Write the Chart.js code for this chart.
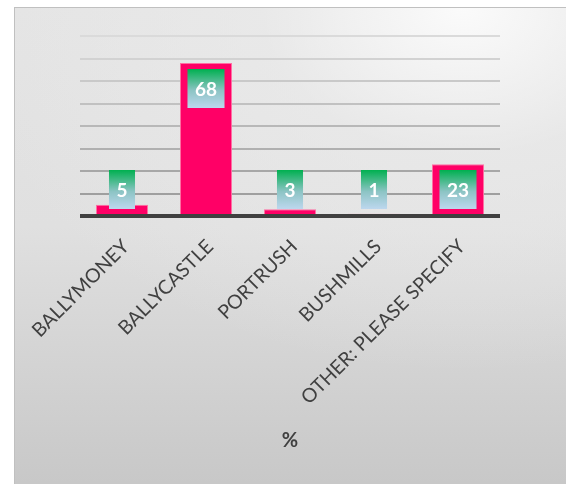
<!DOCTYPE html>
<html lang="en">
<head>
<meta charset="UTF-8">
<title>%</title>
<script src="https://cdn.jsdelivr.net/npm/chart.js"></script>
<style>
  html, body { margin: 0; padding: 0; background: #fff; }
  body { width: 566px; height: 484px; overflow: hidden; position: relative; }
  #frame {
    position: absolute; left: 14px; top: 7px; width: 560px; height: 485px;
    border: 1px solid #c0c0c0;
    background:
      radial-gradient(ellipse 90% 75% at 80% 0%, rgba(252,252,252,0.95) 0%, rgba(236,236,236,0.6) 40%, rgba(220,220,220,0) 100%),
      linear-gradient(to bottom, #e4e4e4 0%, #e0e0e0 45%, #c7c7c7 100%);
  }
  #chart { position: absolute; left: 0; top: 0; }
</style>
</head>
<body>
<div id="frame">
  <canvas id="chart" width="552" height="476"></canvas>
</div>
<script>
const categories = ['BALLYMONEY', 'BALLYCASTLE', 'PORTRUSH', 'BUSHMILLS', 'OTHER: PLEASE SPECIFY'];
const percentages = [5, 68, 3, 1, 23];
const yMax = 80;
const yStep = 10;

// green-to-blue value boxes plus the dark base line, drawn over the bars
const valueBoxes = {
  id: 'valueBoxes',
  afterDatasetsDraw(chart) {
    const ctx = chart.ctx;
    const y = chart.scales.y;
    const base = y.getPixelForValue(0);
    const meta = chart.getDatasetMeta(0);
    ctx.save();
    ctx.font = 'bold 19px Lato, sans-serif';
    ctx.textAlign = 'center';
    ctx.textBaseline = 'middle';
    meta.data.forEach((bar, i) => {
      const txt = String(percentages[i]);
      const w = ctx.measureText(txt).width + 15;
      const h = 39;
      const top = Math.min(bar.y + 6, base - 46);
      const left = bar.x - w / 2;
      const g = ctx.createLinearGradient(0, top, 0, top + h);
      g.addColorStop(0, '#00b050');
      g.addColorStop(0.55, '#8cc4c4');
      g.addColorStop(1, '#bdd7ee');
      ctx.fillStyle = g;
      ctx.fillRect(left, top, w, h);
      ctx.fillStyle = '#ffffff';
      ctx.fillText(txt, bar.x, top + h / 2 + 1);
    });
    const area = chart.chartArea;
    ctx.fillStyle = '#404040';
    ctx.fillRect(area.left, base - 2, area.right - area.left, 4);
    ctx.restore();
  }
};

new Chart(document.getElementById('chart'), {
  type: 'bar',
  data: {
    labels: categories,
    datasets: [{
      data: percentages,
      backgroundColor: '#ff0066',
      borderColor: '#ff6fa3',
      borderWidth: 1,
      categoryPercentage: 1,
      barPercentage: 0.62
    }]
  },
  options: {
    responsive: false,
    animation: false,
    layout: { padding: { left: 65, right: 67, top: 28, bottom: 28 } },
    plugins: {
      legend: { display: false },
      tooltip: { enabled: false }
    },
    scales: {
      x: {
        grid: { display: false, drawTicks: false },
        border: { display: false },
        afterFit(scale) {
          // fixed axis box so the rotated labels don't shrink the plot
          scale.height = 240;
          scale.paddingLeft = 0;
          scale.paddingRight = 0;
        },
        ticks: {
          autoSkip: false,
          minRotation: 45,
          maxRotation: 45,
          padding: 19,
          labelOffset: 4,
          color: '#404040',
          font: { family: 'Lato, sans-serif', size: 19.5 }
        },
        title: {
          display: true,
          text: '%',
          color: '#404040',
          padding: { top: 0, bottom: 3 },
          font: { family: 'Lato, sans-serif', size: 20, weight: 'bold' }
        }
      },
      y: {
        min: 0,
        max: yMax,
        afterFit(scale) { scale.width = 0; },
        ticks: { display: false, stepSize: yStep },
        border: { display: false },
        grid: {
          drawTicks: false,
          lineWidth: 2,
          color(c) {
            const t = c.tick ? c.tick.value / yMax : 0;
            const v = Math.round(150 + t * 68);
            return 'rgb(' + v + ',' + v + ',' + v + ')';
          }
        }
      }
    }
  },
  plugins: [valueBoxes]
});
</script>
</body>
</html>
